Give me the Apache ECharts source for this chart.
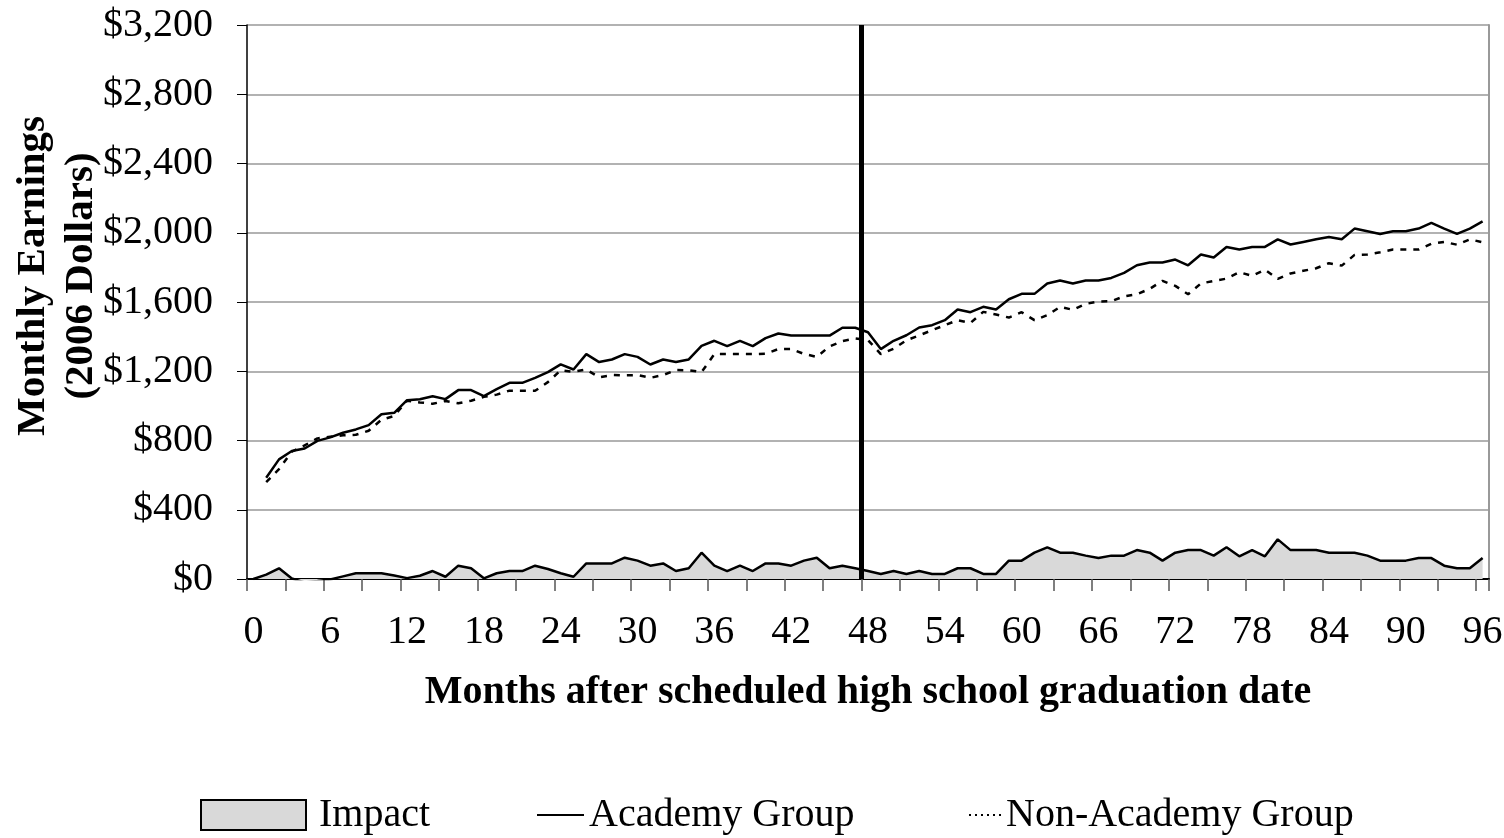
<!DOCTYPE html>
<html><head><meta charset="utf-8">
<script src="https://cdn.jsdelivr.net/npm/echarts@6/dist/echarts.min.js"></script>
<style>html,body{margin:0;padding:0;background:#fff;} #c{width:1504px;height:838px;}</style>
</head><body><div id="c"></div>
<script>
const months = ['0','1','2','3','4','5','6','7','8','9','10','11','12','13','14','15','16','17','18','19','20','21','22','23','24','25','26','27','28','29','30','31','32','33','34','35','36','37','38','39','40','41','42','43','44','45','46','47','48','49','50','51','52','53','54','55','56','57','58','59','60','61','62','63','64','65','66','67','68','69','70','71','72','73','74','75','76','77','78','79','80','81','82','83','84','85','86','87','88','89','90','91','92','93','94','95','96'];

const impact = [0,25,62,3,-20,-12,-3,15,33,33,33,20,5,19,46,13,77,62,4,33,46,46,77,58,33,13,90,90,90,123,106,77,90,46,62,152,77,46,77,46,90,90,77,106,123,62,77,62,46,29,46,29,46,29,29,62,62,29,29,106,106,152,183,152,152,135,121,135,135,167,152,106,152,167,167,135,183,131,167,131,229,167,167,167,152,152,152,135,106,106,106,121,121,77,62,62,121];

const academy = [null,585,691,739,754,798,818,845,864,889,952,960,1033,1038,1056,1039,1091,1091,1056,1097,1133,1133,1162,1195,1240,1210,1299,1253,1268,1299,1283,1239,1268,1253,1268,1347,1376,1345,1376,1345,1391,1418,1406,1406,1406,1406,1451,1451,1425,1328,1376,1408,1453,1466,1495,1557,1541,1572,1557,1616,1647,1647,1707,1724,1707,1724,1724,1739,1768,1812,1828,1828,1845,1812,1874,1857,1918,1903,1918,1918,1962,1932,1947,1962,1976,1962,2024,2009,1993,2009,2009,2024,2057,2024,1993,2024,2066];

const nonAcademy = [null,560,635,735,772,812,822,830,833,856,920,942,1030,1020,1012,1028,1015,1030,1052,1065,1088,1088,1087,1137,1206,1197,1210,1165,1178,1176,1178,1162,1178,1207,1206,1195,1299,1299,1299,1299,1301,1328,1329,1300,1283,1344,1374,1389,1380,1299,1330,1379,1407,1437,1466,1495,1479,1543,1528,1510,1541,1495,1524,1572,1555,1589,1603,1604,1633,1645,1676,1722,1693,1645,1707,1722,1735,1772,1751,1787,1733,1765,1780,1795,1824,1810,1872,1874,1887,1903,1903,1903,1936,1947,1931,1962,1945];

const cutoffMonth = 48;

const FONT = 'Liberation Serif';
const chart = echarts.init(document.getElementById('c'), null, {renderer: 'canvas'});
const legendText = {fontFamily: FONT, fontSize: 40, color: '#000'};
chart.setOption({
  animation: false,
  backgroundColor: '#fff',
  grid: {left: 247, right: 15, top: 25, bottom: 259, containLabel: false, outerBoundsMode: 'none'},
  xAxis: [{
    type: 'category', data: months, boundaryGap: true,
    axisLine: {lineStyle: {color: '#000', width: 2}},
    axisTick: {show: true, interval: 2, length: 12, lineStyle: {color: '#555', width: 1.5}},
    axisLabel: {interval: 5, fontFamily: FONT, fontSize: 40, color: '#000', margin: 33, hideOverlap: false},
    splitLine: {show: false},
    name: 'Months after scheduled high school graduation date',
    nameLocation: 'middle', nameGap: 94, nameMoveOverlap: false,
    nameTextStyle: {fontFamily: FONT, fontSize: 40, fontWeight: 'bold', color: '#000'}
  }, {
    type: 'value', min: 0, max: 97, show: false
  }],
  yAxis: [{
    type: 'value', min: 0, max: 3200, interval: 400,
    axisLine: {show: true, lineStyle: {color: '#000', width: 1.5}},
    axisTick: {show: true, inside: false, length: 10, lineStyle: {color: '#000'}},
    axisLabel: {formatter: v => '$' + v.toLocaleString('en-US'), fontFamily: FONT, fontSize: 40, color: '#000', margin: 34},
    splitLine: {show: true, lineStyle: {color: '#999', width: 1.5}},
    name: 'Monthly Earnings\n(2006 Dollars)', nameLocation: 'middle', nameGap: 142, nameRotate: 90, nameMoveOverlap: false,
    nameTextStyle: {fontFamily: FONT, fontSize: 41, fontWeight: 'bold', color: '#000', lineHeight: 48, padding: [0, 0, 0, 52]}
  }, {
    type: 'value', min: 0, max: 3200, position: 'right',
    axisLine: {show: true, lineStyle: {color: '#999', width: 2}},
    axisTick: {show: false}, axisLabel: {show: false}, splitLine: {show: false}
  }],
  legend: [
    {data: [{name: 'Impact', icon: 'rect', itemStyle: {color: '#d9d9d9', borderColor: '#000', borderWidth: 2}}],
     left: 200, top: 795, padding: 0, itemWidth: 105, itemHeight: 30, selectedMode: false,
     textStyle: Object.assign({padding: [0, 0, 0, 8]}, legendText)},
    {data: [{name: 'Academy Group', itemStyle: {opacity: 0}, lineStyle: {color: '#000', width: 2}}],
     left: 536, top: 795, padding: 0, itemWidth: 47, itemHeight: 30, selectedMode: false, textStyle: legendText},
    {data: [{name: 'Non-Academy Group', itemStyle: {opacity: 0}, lineStyle: {color: '#000', width: 2, type: [2, 4]}}],
     left: 968, top: 795, padding: 0, itemWidth: 32, itemHeight: 30, selectedMode: false, textStyle: legendText}
  ],
  series: [
    {name: 'Impact', type: 'line', data: impact, symbol: 'none', color: '#000',
     lineStyle: {color: '#000', width: 2.5}, areaStyle: {color: '#d9d9d9', opacity: 1}, z: 2},
    {name: 'Academy Group', type: 'line', data: academy, symbol: 'none', color: '#000',
     lineStyle: {color: '#000', width: 2.5}, z: 3},
    {name: 'Non-Academy Group', type: 'line', data: nonAcademy, symbol: 'none', color: '#000',
     lineStyle: {color: '#000', width: 2.5, type: [6, 7]}, z: 3},
    {name: 'cutoff', type: 'line', xAxisIndex: 1, yAxisIndex: 0, data: [], z: 5,
     markLine: {silent: true, symbol: 'none', label: {show: false},
       lineStyle: {color: '#000', width: 5, type: 'solid'}, data: [{xAxis: cutoffMonth}]}}
  ]
});
</script></body></html>
